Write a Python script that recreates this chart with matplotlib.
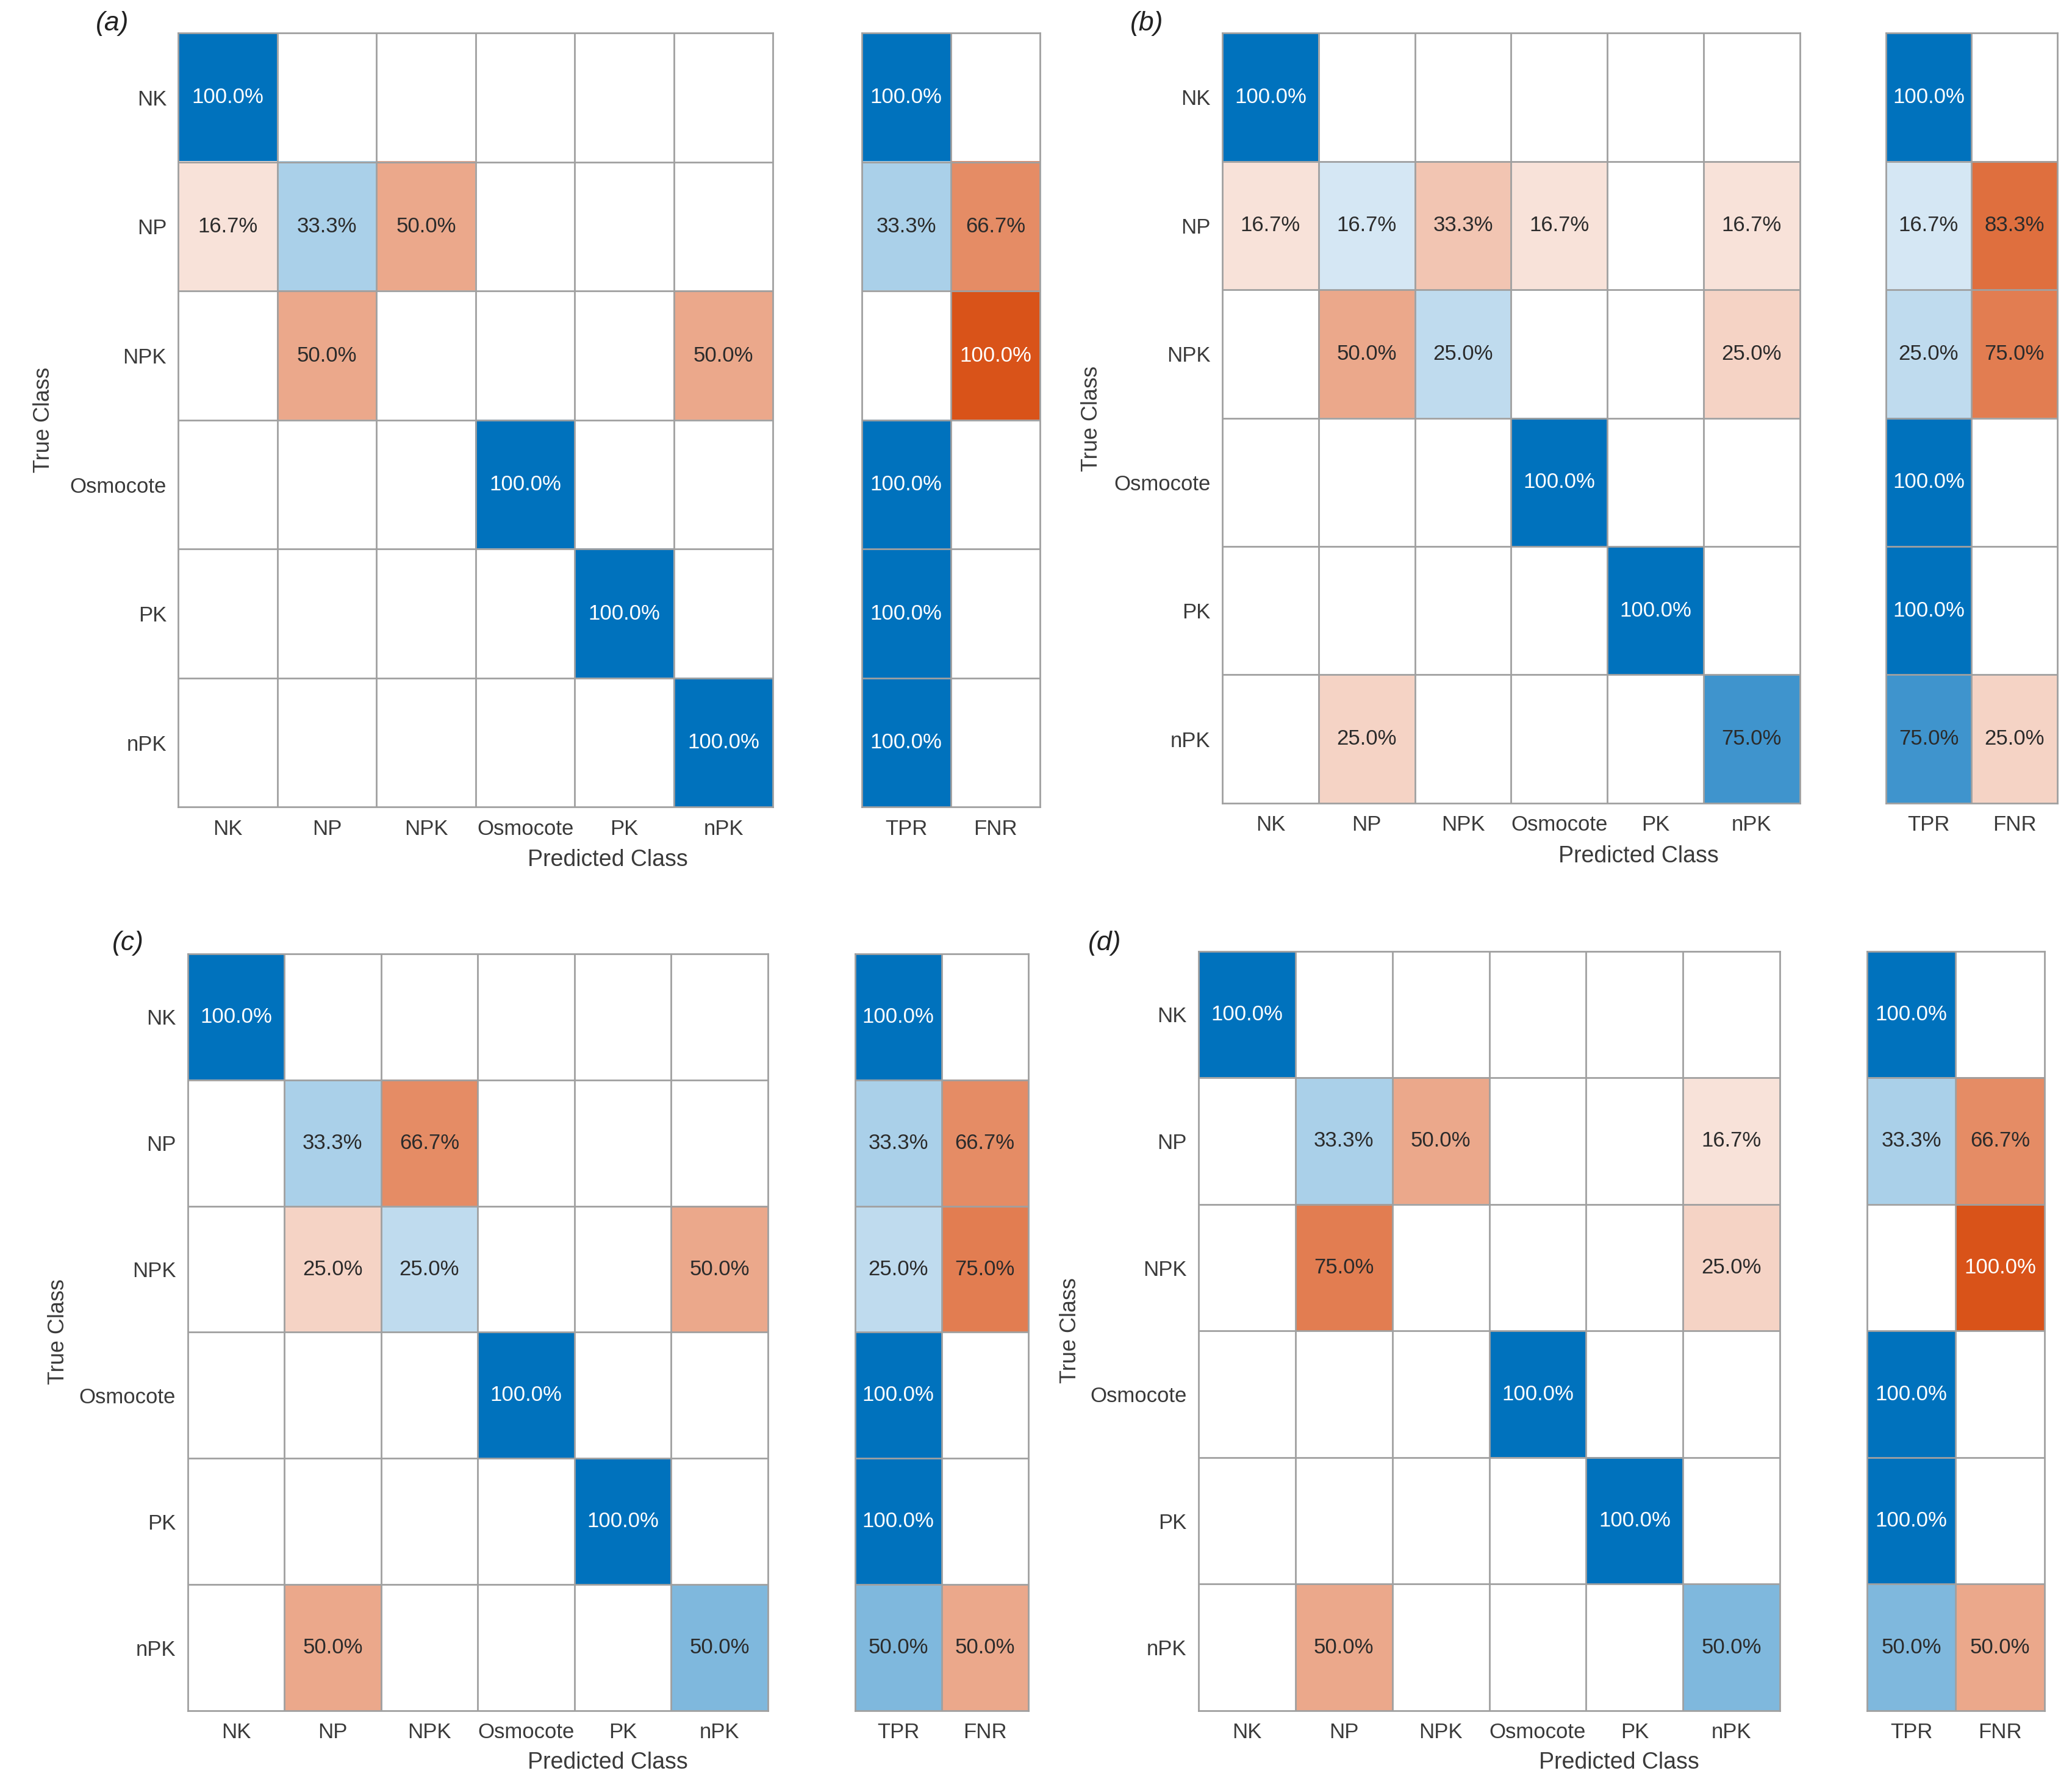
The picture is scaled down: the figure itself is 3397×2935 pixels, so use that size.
import numpy as np
import matplotlib.pyplot as plt
from matplotlib.colors import LinearSegmentedColormap

plt.rcParams['font.family'] = ['Liberation Sans', 'DejaVu Sans']

# 数据准备
classes = ['NK', 'NP', 'NPK', 'Osmocote', 'PK', 'nPK']
rates = ['TPR', 'FNR']

cm_a = [[100, 0, 0, 0, 0, 0],
        [16.7, 33.3, 50.0, 0, 0, 0],
        [0, 50.0, 0, 0, 0, 50.0],
        [0, 0, 0, 100, 0, 0],
        [0, 0, 0, 0, 100, 0],
        [0, 0, 0, 0, 0, 100]]
tpr_fnr_a = [[100, 0], [33.3, 66.7], [0, 100], [100, 0], [100, 0], [100, 0]]

cm_b = [[100, 0, 0, 0, 0, 0],
        [16.7, 16.7, 33.3, 16.7, 0, 16.7],
        [0, 50.0, 25.0, 0, 0, 25.0],
        [0, 0, 0, 100, 0, 0],
        [0, 0, 0, 0, 100, 0],
        [0, 25.0, 0, 0, 0, 75.0]]
tpr_fnr_b = [[100, 0], [16.7, 83.3], [25.0, 75.0], [100, 0], [100, 0], [75.0, 25.0]]

cm_c = [[100, 0, 0, 0, 0, 0],
        [0, 33.3, 66.7, 0, 0, 0],
        [0, 25.0, 25.0, 0, 0, 50.0],
        [0, 0, 0, 100, 0, 0],
        [0, 0, 0, 0, 100, 0],
        [0, 50.0, 0, 0, 0, 50.0]]
tpr_fnr_c = [[100, 0], [33.3, 66.7], [25.0, 75.0], [100, 0], [100, 0], [50.0, 50.0]]

cm_d = [[100, 0, 0, 0, 0, 0],
        [0, 33.3, 50.0, 0, 0, 16.7],
        [0, 75.0, 0, 0, 0, 25.0],
        [0, 0, 0, 100, 0, 0],
        [0, 0, 0, 0, 100, 0],
        [0, 50.0, 0, 0, 0, 50.0]]
tpr_fnr_d = [[100, 0], [33.3, 66.7], [0, 100], [100, 0], [100, 0], [50.0, 50.0]]

blues = LinearSegmentedColormap.from_list('mblue', ['white', '#0072BD'])
oranges = LinearSegmentedColormap.from_list('morange', ['white', '#D95319'])
grid_col = '#a0a0a0'
fs = 25

W, H = 1568.0, 1355.0  # 参考图缩略坐标


def box(x0, y0, x1, y1):
    return [x0 / W, 1 - y1 / H, (x1 - x0) / W, (y1 - y0) / H]


def draw_cells(ax, data, good, xlabels, ylabels):
    data = np.array(data, dtype=float)
    nr, nc = data.shape
    good = np.array(good, dtype=bool)
    ax.imshow(np.ma.masked_where(~good, data), cmap=blues, vmin=0, vmax=100,
              aspect='auto', interpolation='nearest')
    ax.imshow(np.ma.masked_where(good, data), cmap=oranges, vmin=0, vmax=100,
              aspect='auto', interpolation='nearest')
    for i in range(nr):
        for j in range(nc):
            v = data[i, j]
            if v > 0:
                ax.text(j, i, '{:.1f}%'.format(v), ha='center', va='center',
                        fontsize=fs, color='white' if v >= 90 else '#2b2b2b')
    for k in range(1, nr):
        ax.axhline(k - 0.5, color=grid_col, lw=2)
    for k in range(1, nc):
        ax.axvline(k - 0.5, color=grid_col, lw=2)
    for s in ax.spines.values():
        s.set_color(grid_col)
        s.set_linewidth(2)
    ax.set_xticks(range(nc))
    ax.set_xticklabels(xlabels, fontsize=fs, color='#3a3a3a')
    ax.set_yticks(range(nr))
    if ylabels is None:
        ax.set_yticklabels([])
    else:
        ax.set_yticklabels(ylabels, fontsize=fs, color='#3a3a3a')
    ax.tick_params(length=0, pad=14)


fig = plt.figure(figsize=(33.97, 29.35), dpi=100)

panels = [
    ('(a)', cm_a, tpr_fnr_a, box(135, 25, 585, 611), box(652, 25, 787, 611), (85, 18), (33, 318), (460, 651)),
    ('(b)', cm_b, tpr_fnr_b, box(925, 25, 1362, 608), box(1427, 25, 1557, 608), (868, 18), (826, 317), (1240, 648)),
    ('(c)', cm_c, tpr_fnr_c, box(142, 722, 581, 1295), box(647, 722, 778, 1295), (97, 714), (44, 1008), (460, 1334)),
    ('(d)', cm_d, tpr_fnr_d, box(907, 720, 1347, 1295), box(1413, 720, 1547, 1295), (836, 714), (810, 1007), (1225, 1334)),
]

for tag, cm, side, pos_main, pos_side, tag_xy, yl_xy, xl_xy in panels:
    ax = fig.add_axes(pos_main)
    diag = np.eye(len(classes), dtype=bool)
    draw_cells(ax, cm, diag, classes, classes)

    ax2 = fig.add_axes(pos_side)
    tp_col = np.zeros((len(classes), 2), dtype=bool)
    tp_col[:, 0] = True
    draw_cells(ax2, side, tp_col, rates, None)

    fig.text(tag_xy[0] / W, 1 - tag_xy[1] / H, tag, fontsize=32, style='italic',
             ha='center', va='center', color='#222222')
    fig.text(yl_xy[0] / W, 1 - yl_xy[1] / H, 'True Class', fontsize=fs + 1, rotation=90,
             ha='center', va='center', color='#3a3a3a')
    fig.text(xl_xy[0] / W, 1 - xl_xy[1] / H, 'Predicted Class', fontsize=fs + 2,
             ha='center', va='center', color='#3a3a3a')

plt.savefig('out.png', dpi=100)
